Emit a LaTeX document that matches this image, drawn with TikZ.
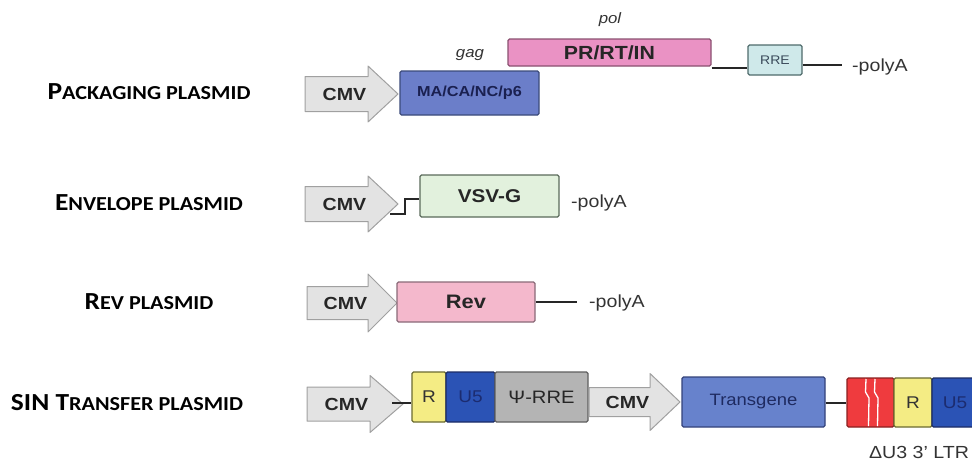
\documentclass[tikz,border=0pt]{standalone}
\usepackage{fontspec}
\newfontfamily\boxfont[FakeStretch=1.12]{Liberation Sans}
\newfontfamily\labfont[FakeStretch=1.12]{Carlito}
\definecolor{cmvfill}{HTML}{E3E3E3}
\definecolor{cmvdraw}{HTML}{A0A0A0}
\definecolor{mafill}{HTML}{6B7EC9}
\definecolor{madraw}{HTML}{3B4A7A}
\definecolor{matext}{HTML}{1A2050}
\definecolor{prfill}{HTML}{EA92C4}
\definecolor{prdraw}{HTML}{8A5070}
\definecolor{rrefill}{HTML}{CFE9EA}
\definecolor{rredraw}{HTML}{4F6B6B}
\definecolor{rretext}{HTML}{3A4A5A}
\definecolor{vsvfill}{HTML}{E2F1DD}
\definecolor{vsvdraw}{HTML}{5A6A5A}
\definecolor{revfill}{HTML}{F4B8CC}
\definecolor{revdraw}{HTML}{8A6A78}
\definecolor{yelfill}{HTML}{F4EC84}
\definecolor{yeldraw}{HTML}{6A6A30}
\definecolor{ufill}{HTML}{2B53B5}
\definecolor{udraw}{HTML}{1C2C66}
\definecolor{utext}{HTML}{1C2C70}
\definecolor{psifill}{HTML}{B4B4B4}
\definecolor{psidraw}{HTML}{5E5E5E}
\definecolor{tgfill}{HTML}{6782CC}
\definecolor{tgdraw}{HTML}{33427A}
\definecolor{tgtext}{HTML}{1E2A60}
\definecolor{redfill}{HTML}{EF3B3E}
\definecolor{reddraw}{HTML}{8A2020}
\definecolor{txt}{HTML}{333333}
% arrow: #1 name, #2 x0, #3 head start, #4 tip, #5 yc, #6 body half, #7 head half
\newcommand{\cmvarrow}[7]{%
  \draw[cmvshape] (#2,#5-#6) -- (#3,#5-#6) -- (#3,#5-#7) -- (#4,#5) -- (#3,#5+#7) -- (#3,#5+#6) -- (#2,#5+#6) -- cycle;
  \node[cmvtext] (#1) at ({(#2+#3)/2+8},#5) {CMV};
}
\begin{document}
\begin{tikzpicture}[x=1pt,y=-1pt,
  cmvshape/.style={fill=cmvfill,draw=cmvdraw,line width=1pt,line join=round},
  cmvtext/.style={font=\boxfont\bfseries\fontsize{17.5}{17.5}\selectfont,text=black!85,inner sep=0pt},
  genebox/.style={draw,line width=1.1pt,rounded corners=1.5pt,inner sep=0pt,anchor=center},
  boldtxt/.style={font=\boxfont\bfseries\fontsize{16}{16}\selectfont},
  plaintxt/.style={font=\boxfont\fontsize{17}{17}\selectfont},
  itxt/.style={font=\boxfont\itshape\fontsize{15}{15}\selectfont,text=txt,inner sep=0pt},
  polytxt/.style={font=\boxfont\fontsize{17.5}{17.5}\selectfont,text=txt,inner sep=0pt,anchor=west},
  conn/.style={line width=1.4pt,draw=black!85},
  labtxt/.style={font=\labfont\bfseries,text=black,inner sep=0pt}
]
\useasboundingbox (0,0) rectangle (972,463);
\newcommand{\BC}[1]{{\fontsize{24.5}{24.5}\selectfont #1}}
\newcommand{\SC}[1]{{\fontsize{19.8}{19.8}\selectfont #1}}

% labels
\node[labtxt] (lpack) at (149,92) {\BC{P}\SC{ACKAGING PLASMID}};
\node[labtxt] (lenv) at (149,203) {\BC{E}\SC{NVELOPE PLASMID}};
\node[labtxt] (lrev) at (149,302) {\BC{R}\SC{EV PLASMID}};
\node[labtxt] (lsin) at (127,403) {\BC{SIN T}\SC{RANSFER PLASMID}};

% ---------- packaging ----------
\cmvarrow{cmv1}{305}{368}{398}{94}{17.5}{28}
\node[genebox,fill=mafill,draw=madraw,minimum width=139pt,minimum height=44pt,font=\boxfont\bfseries\fontsize{14.5}{14.5}\selectfont,text=matext] (ma) at (469.5,93) {MA/CA/NC/p6};
\node[genebox,fill=prfill,draw=prdraw,minimum width=203pt,minimum height=27pt,font=\boxfont\bfseries\fontsize{19}{19}\selectfont,text=black!85] (pr) at (609.5,52.5) {PR/RT/IN};
\node[itxt] (gag) at (470,55) {gag};
\node[itxt] (pol) at (610,20) {pol};
\node[genebox,fill=rrefill,draw=rredraw,minimum width=54pt,minimum height=30pt,font=\boxfont\fontsize{12.5}{12.5}\selectfont,text=rretext] (rre) at (775,60) {RRE};
\coordinate (pa1) at (842,65);
\draw[conn] ([yshift=-1.5pt]pr.south east) -- ([yshift=-1.5pt]pr.south east -| rre.west);
\draw[conn] (rre.east |- pa1) -- (pa1);
\node[polytxt] (poly1) at (852,67) {-polyA};

% ---------- envelope ----------
\cmvarrow{cmv2}{305}{368}{398}{204}{17.5}{28}
\node[genebox,fill=vsvfill,draw=vsvdraw,minimum width=139pt,minimum height=42pt,font=\boxfont\bfseries\fontsize{18.5}{18.5}\selectfont,text=black!85] (vsv) at (489.5,196) {VSV-G};
\coordinate (st1) at (390,214);
\coordinate (st2) at (405,214);
\coordinate (st3) at (405,199);
\draw[conn] (st1) -- (st2) -- (st3) -- (st3 -| vsv.west);
\node[polytxt] (poly2) at (571,203) {-polyA};

% ---------- rev ----------
\cmvarrow{cmv3}{307}{368}{397}{303}{16.5}{29}
\node[genebox,fill=revfill,draw=revdraw,minimum width=138pt,minimum height=40pt,font=\boxfont\bfseries\fontsize{19.5}{19.5}\selectfont,text=black!85] (rev) at (466,302) {Rev};
\coordinate (pa3) at (577,302);
\draw[conn] (rev.east) -- (pa3);
\node[polytxt] (poly3) at (589,303) {-polyA};

% ---------- SIN transfer ----------
\cmvarrow{cmv4}{307}{370}{403}{404}{17}{28.5}
\node[genebox,fill=yelfill,draw=yeldraw,minimum width=34pt,minimum height=50pt,plaintxt,text=black!80] (r1) at (429,397) {R};
\node[genebox,fill=ufill,draw=udraw,minimum width=49pt,minimum height=50pt,plaintxt,text=utext] (u1) at (470.5,397) {U5};
\node[genebox,fill=psifill,draw=psidraw,minimum width=93pt,minimum height=50pt,font=\boxfont\fontsize{18}{18}\selectfont,text=black!85] (psi) at (541.5,397) {Ψ-RRE};
\coordinate (sl) at (392,403);
\draw[conn] (sl) -- (sl -| r1.west);
\cmvarrow{cmv5}{589}{650}{680}{402}{14.5}{28.5}
\node[genebox,fill=tgfill,draw=tgdraw,minimum width=143pt,minimum height=50pt,font=\boxfont\fontsize{16.5}{16.5}\selectfont,text=tgtext] (tg) at (753.5,402) {Transgene};
\node[genebox,fill=redfill,draw=reddraw,minimum width=47pt,minimum height=49pt] (red) at (870.5,402.5) {};
\node[genebox,fill=yelfill,draw=yeldraw,minimum width=38pt,minimum height=49pt,plaintxt,text=black!80] (r2) at (913,402.5) {R};
\node[genebox,fill=ufill,draw=udraw,minimum width=46pt,minimum height=49pt,plaintxt,text=utext] (u2) at (955,402.5) {U5};
\draw[conn] (tg.east |- 0,403) -- (red.west |- 0,403);
\draw[white,line width=1.3pt] (866,379) -- (865.5,392) -- (869,398) -- (868.5,426);
\draw[white,line width=1.3pt] (875,379) -- (874.5,392) -- (878,398) -- (877.5,426);
\node[font=\boxfont\fontsize{17.5}{17.5}\selectfont,text=txt,inner sep=0pt] (ltr) at (919,452) {ΔU3 3’ LTR};
\end{tikzpicture}
\end{document}
